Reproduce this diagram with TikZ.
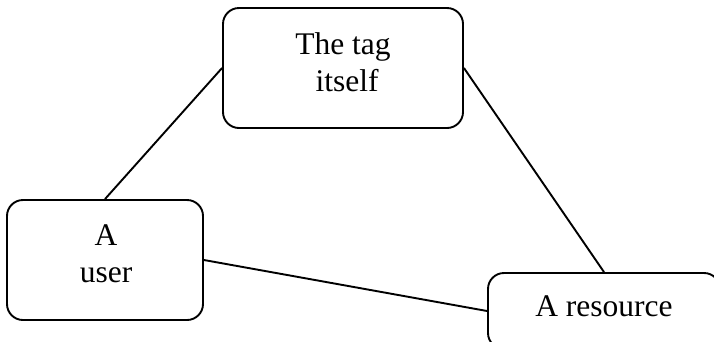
\documentclass[tikz,border=0pt]{standalone}
\usepackage{fontspec}
\setmainfont{Liberation Serif}
\begin{document}
\begin{tikzpicture}[x=1pt,y=-1pt,
  box/.style={draw=black,line width=1.9pt,rounded corners=16pt,rectangle,inner sep=0pt},
  lbl/.style={font=\fontsize{31.5}{37}\selectfont,anchor=base,inner sep=0pt},
  link/.style={draw=black,line width=1.9pt}]
\useasboundingbox (0,0) rectangle (714,341);
\node[box,minimum width=240pt,minimum height=120pt] (tag) at (343,68) {};
\node[box,minimum width=196pt,minimum height=120pt] (user) at (105,260) {};
\node[box,minimum width=232pt,minimum height=76pt] (res) at (604,311) {};
\node[lbl] (t1) at (343,54) {The tag};
\node[lbl] (t2) at (347,91) {itself};
\node[lbl] (u1) at (106,245) {A};
\node[lbl] (u2) at (106,282) {user};
\node[lbl] (r1) at (604,316) {A resource};
\draw[link] (user.north) -- (tag.west);
\draw[link] (tag.east) -- (res.north);
\draw[link] (user.east) -- (res.west);
\end{tikzpicture}
\end{document}
